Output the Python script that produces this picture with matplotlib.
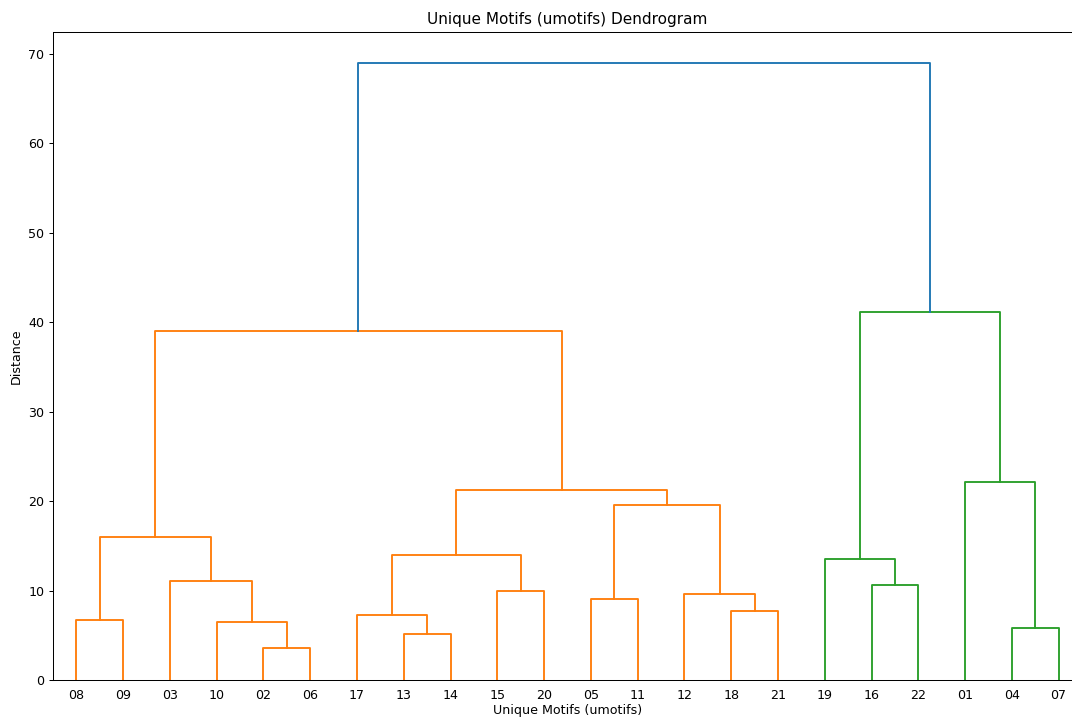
import matplotlib
matplotlib.use("Agg")
import matplotlib.pyplot as plt

# leaf labels in original order (id = position)
labels = ["01", "02", "03", "04", "05", "06", "07", "08", "09", "10", "11",
          "12", "13", "14", "15", "16", "17", "18", "19", "20", "21", "22"]

# linkage rows: left child, right child, distance (new cluster ids start at 22)
left_child = [1, 12, 3, 9, 7, 16, 17, 4, 11, 14, 15, 2, 18, 27, 26, 29, 35, 0, 36, 34, 40]
right_child = [5, 13, 6, 22, 8, 23, 20, 10, 28, 19, 21, 25, 32, 31, 33, 30, 37, 24, 38, 39, 41]
distances = [3.6, 5.1, 5.8, 6.5, 6.7, 7.3, 7.7, 9.1, 9.6, 9.9, 10.6, 11.1,
             13.5, 14.0, 16.0, 19.6, 21.2, 22.1, 39.0, 41.1, 69.0]

palette = ["C1", "C2", "C3", "C4"]
above_color = "C0"

DPI = 91.3


def main():
    n = len(labels)
    threshold = 0.7 * max(distances)
    root = n + len(distances) - 1

    # leaf order by walking the tree
    order = []

    def walk(node):
        if node < n:
            order.append(node)
        else:
            i = node - n
            walk(left_child[i])
            walk(right_child[i])

    walk(root)
    xpos = {leaf: 5 + 10 * k for k, leaf in enumerate(order)}

    fig, ax = plt.subplots(figsize=(1072 / DPI, 718 / DPI))
    color_idx = [0]

    def draw(node, color):
        if node < n:
            return xpos[node], 0.0
        i = node - n
        h = distances[i]
        if color is None and h < threshold:
            color = palette[color_idx[0] % len(palette)]
            color_idx[0] += 1
        c = color if color is not None else above_color
        xl, yl = draw(left_child[i], color)
        xr, yr = draw(right_child[i], color)
        ax.plot([xl, xl, xr, xr], [yl, h, h, yr], color=c, lw=1.5)
        return (xl + xr) / 2, h

    draw(root, None)

    ax.set_xlim(0, 10 * n)
    ax.set_ylim(0, max(distances) * 1.05)
    ax.set_xticks([xpos[leaf] for leaf in order])
    ax.set_xticklabels([labels[leaf] for leaf in order])
    for line in ax.get_xticklines():
        line.set_visible(False)
    ax.set_title("Unique Motifs (umotifs) Dendrogram")
    ax.set_xlabel("Unique Motifs (umotifs)", labelpad=2)
    ax.set_ylabel("Distance")
    # the reference is cropped on the right, so the axes run past the edge
    plt.subplots_adjust(left=53 / 1072, right=1082 / 1072, top=1 - 32 / 718, bottom=1 - 680 / 718)
    plt.savefig("out.png", dpi=DPI)


if __name__ == "__main__":
    main()
